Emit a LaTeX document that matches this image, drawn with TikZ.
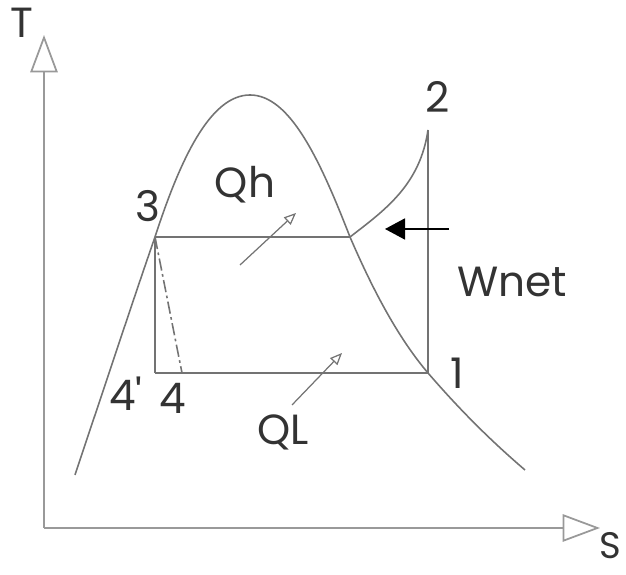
\documentclass[tikz,border=0pt]{standalone}
\usepackage{fontspec}
\setmainfont{Poppins}
\usetikzlibrary{arrows.meta,positioning}
\tikzset{
  curve/.style     = {line width=0.9pt, black!55},
  axis line/.style = {line width=1.1pt, black!40,
                      -{Triangle[open,length=7.5mm,width=5.5mm,line width=1pt]}},
  heat/.style      = {line width=0.7pt, black!55,
                      -{Triangle[open,length=2.4mm,width=2mm]}},
  push/.style      = {line width=1pt, black,
                      -{Triangle[length=4mm,width=4.2mm]}},
  lbl/.style       = {font=\fontsize{24}{26}\selectfont, text=black!80, inner sep=0pt},
}

\begin{document}
\begin{tikzpicture}
  \useasboundingbox (0,0) rectangle (12.52,11.5);
  % ---------------- axes --------------------------------------------------
  \coordinate (O) at (0.88,0.94);
  \coordinate (Ttip) at (0.88,10.8);
  \coordinate (Stip) at (12.0,0.94);
  \draw[axis line] (O) -- (Ttip);
  \draw[axis line] (O) -- (Stip);
  \node[lbl] (Tlbl) at (0.44,11.04) {T};
  \node[lbl,font=\fontsize{21}{23}\selectfont] (Slbl) at (12.2,0.58) {S};

  % ---------------- state points ------------------------------------------
  \coordinate (p1) at (8.56,4.04);
  \coordinate (p2) at (8.56,8.9);
  \coordinate (p3) at (3.1,6.76);
  \coordinate (p4) at (3.64,4.04);
  \coordinate (p4p) at (3.1,4.04);
  \coordinate (sv) at (7.0,6.76);

  % ---------------- saturation dome ---------------------------------------
  \draw[curve] (1.5,2.0) .. controls (2.3,4.4) and (2.8,5.9) .. (p3)
        .. controls (3.6,8.3) and (4.2,9.6) .. (5.0,9.6)
        .. controls (5.8,9.6) and (6.4,8.3) .. (sv)
        .. controls (7.5,5.6) and (8.0,4.7) .. (p1)
        .. controls (9.2,3.3) and (9.8,2.7) .. (10.5,2.1);

  % ---------------- cycle -------------------------------------------------
  \draw[curve] (sv) .. controls (7.7,7.3) and (8.4,7.8) .. (p2);
  \draw[curve] (p2) -- (p1);
  \draw[curve] (p3) -- (sv);
  \draw[curve] (p3) -- (p4p);
  \draw[curve,line width=1.4pt] (p4p) -- (p1);
  \draw[curve,dash pattern=on 7pt off 2pt on 1.5pt off 2pt] (p3) -- (p4);

  % ---------------- heat and work arrows ----------------------------------
  \coordinate (qhA) at (4.8,6.2);
  \coordinate (qhB) at (5.92,7.24);
  \coordinate (qlA) at (5.84,3.4);
  \coordinate (qlB) at (6.84,4.44);
  \coordinate (wA) at (8.98,6.92);
  \coordinate (wB) at (7.7,6.92);
  \draw[heat] (qhA) -- (qhB);
  \draw[heat] (qlA) -- (qlB);
  \draw[push] (wA) -- (wB);

  % ---------------- labels ------------------------------------------------
  \node[lbl] (l1) at (9.14,4.04) {1};
  \node[lbl] (l2) at (8.76,9.56) {2};
  \node[lbl] (l3) at (2.96,7.38) {3};
  \node[lbl] (l4p) at (2.52,3.62) {4\textquotesingle};
  \node[lbl] (l4) at (3.46,3.54) {4};
  \node[lbl] (lqh) at (4.9,7.8) {Qh};
  \node[lbl] (lql) at (5.66,2.86) {QL};
  \node[lbl] (lw) at (10.24,5.86) {Wnet};
\end{tikzpicture}
\end{document}
